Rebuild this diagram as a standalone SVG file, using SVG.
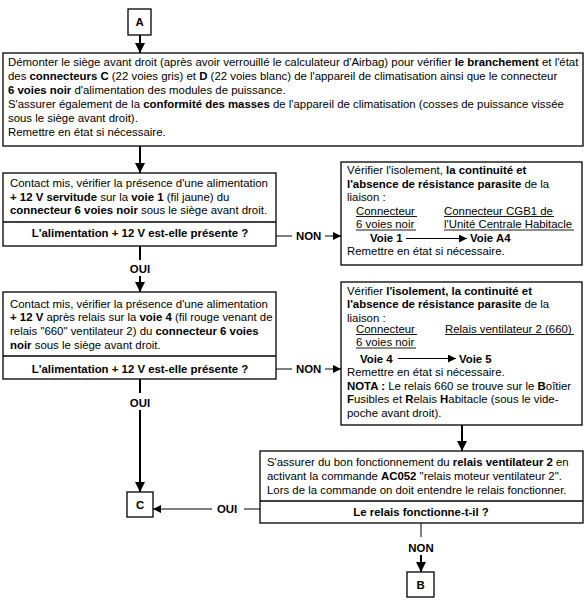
<svg xmlns="http://www.w3.org/2000/svg" width="585" height="609" viewBox="0 0 585 609">
<style>
.t{font-family:"Liberation Sans",Arial,sans-serif;font-size:11.4px;fill:#000}
.b{font-weight:bold}
.c{text-anchor:middle}
.box{fill:#fff;stroke:#000;stroke-width:1.3}
.dv{stroke:#000;stroke-width:1.3}
.v{stroke:#000;stroke-width:2;fill:none}
.h{stroke:#000;stroke-width:1;fill:none}
.u{stroke:#000;stroke-width:0.9}
</style>
<defs>
<marker id="big" viewBox="0 0 10 10" refX="10" refY="5" markerUnits="userSpaceOnUse" markerWidth="10" markerHeight="10" orient="auto"><path d="M0,0 L10,5 L0,10 z" fill="#000"/></marker>
<marker id="sm" viewBox="0 0 10 10" refX="10" refY="5" markerUnits="userSpaceOnUse" markerWidth="8" markerHeight="8" orient="auto"><path d="M0,0 L10,5 L0,10 z" fill="#000"/></marker>
</defs>
<rect width="585" height="609" fill="#fff"/>

<g id="connectors">
<line class="v" x1="140" y1="35" x2="140" y2="53" marker-end="url(#big)"/>
<line class="v" x1="140" y1="146" x2="140" y2="173" marker-end="url(#big)"/>
<line class="v" x1="140" y1="246" x2="140" y2="260"/>
<line class="v" x1="140" y1="276" x2="140" y2="292" marker-end="url(#big)"/>
<line class="h" x1="276" y1="236" x2="292" y2="236"/>
<line class="h" x1="325" y1="236" x2="341" y2="236" marker-end="url(#sm)"/>
<line class="v" x1="140" y1="379" x2="140" y2="393"/>
<line class="v" x1="140" y1="410" x2="140" y2="492" marker-end="url(#big)"/>
<line class="h" x1="276" y1="369" x2="292" y2="369"/>
<line class="h" x1="325" y1="369" x2="341" y2="369" marker-end="url(#sm)"/>
<line class="v" x1="462" y1="425" x2="462" y2="451" marker-end="url(#big)"/>
<line class="h" x1="260" y1="509" x2="244" y2="509"/>
<line class="h" x1="212" y1="509" x2="153" y2="509" marker-end="url(#sm)"/>
<line class="h" x1="421" y1="523" x2="421" y2="537"/>
<line class="v" x1="421" y1="555" x2="421" y2="572" marker-end="url(#big)"/>
<text class="t b c" x="140" y="273">OUI</text>
<text class="t b c" x="140" y="407">OUI</text>
<text class="t b" x="296" y="240">NON</text>
<text class="t b" x="296" y="373">NON</text>
<text class="t b" x="217" y="513">OUI</text>
<text class="t b c" x="421" y="552">NON</text>
</g>

<g id="A">
<rect class="box" x="128" y="9" width="23" height="26"/>
<text class="t b c" x="139.5" y="26">A</text>
</g>

<g id="step1">
<rect class="box" x="3" y="53" width="580" height="93"/>
<text class="t" x="8" y="66">Démonter le siège avant droit (après avoir verrouillé le calculateur d'Airbag) pour vérifier <tspan class="b">le branchement</tspan> et l'état</text>
<text class="t" x="8" y="80">des <tspan class="b">connecteurs C</tspan> (22 voies gris) et <tspan class="b">D</tspan> (22 voies blanc) de l'appareil de climatisation ainsi que le connecteur</text>
<text class="t" x="8" y="94"><tspan class="b">6 voies noir</tspan> d'alimentation des modules de puissance.</text>
<text class="t" x="8" y="108">S'assurer également de la <tspan class="b">conformité des masses</tspan> de l'appareil de climatisation (cosses de puissance vissée</text>
<text class="t" x="8" y="122">sous le siège avant droit).</text>
<text class="t" x="8" y="136">Remettre en état si nécessaire.</text>
</g>

<g id="test1">
<rect class="box" x="3" y="173" width="273" height="73"/>
<line class="dv" x1="3" y1="222" x2="276" y2="222"/>
<text class="t" x="10" y="187">Contact mis, vérifier la présence d'une alimentation</text>
<text class="t" x="10" y="200.5"><tspan class="b">+ 12 V servitude</tspan> sur la <tspan class="b">voie 1</tspan> (fil jaune) du</text>
<text class="t" x="10" y="214"><tspan class="b">connecteur 6 voies noir</tspan> sous le siège avant droit.</text>
<text class="t b c" x="140" y="237">L'alimentation + 12 V est-elle présente ?</text>
</g>

<g id="fix1">
<rect class="box" x="341" y="162" width="241" height="103"/>
<text class="t" x="347" y="174">Vérifier l'isolement, <tspan class="b">la continuité et</tspan></text>
<text class="t" x="347" y="187.5"><tspan class="b">l'absence de résistance parasite</tspan> de la</text>
<text class="t" x="347" y="201">liaison :</text>
<text class="t" x="356" y="214.5">Connecteur</text>
<text class="t" x="444" y="214.5">Connecteur CGB1 de</text>
<line class="u" x1="356" y1="216.5" x2="417" y2="216.5"/>
<line class="u" x1="444" y1="216.5" x2="554" y2="216.5"/>
<text class="t" x="356" y="228">6 voies noir</text>
<text class="t" x="444" y="228">l'Unité Centrale Habitacle</text>
<line class="u" x1="356" y1="230" x2="416" y2="230"/>
<line class="u" x1="444" y1="230" x2="574" y2="230"/>
<text class="t b" x="370" y="242">Voie 1</text>
<line class="h" x1="406" y1="238.5" x2="467" y2="238.5" marker-end="url(#sm)"/>
<text class="t b" x="470" y="242">Voie A4</text>
<text class="t" x="347" y="255">Remettre en état si nécessaire.</text>
</g>

<g id="test2">
<rect class="box" x="3" y="292" width="273" height="87"/>
<line class="dv" x1="3" y1="356" x2="276" y2="356"/>
<text class="t" x="10" y="307.5">Contact mis, vérifier la présence d'une alimentation</text>
<text class="t" x="10" y="321"><tspan class="b">+ 12 V</tspan> après relais sur la <tspan class="b">voie 4</tspan> (fil rouge venant de</text>
<text class="t" x="10" y="335"><tspan>relais "660" ventilateur 2) du </tspan><tspan class="b">connecteur 6 voies</tspan></text>
<text class="t" x="10" y="348.5"><tspan class="b">noir</tspan> sous le siège avant droit.</text>
<text class="t b c" x="140" y="372.5">L'alimentation + 12 V est-elle présente ?</text>
</g>

<g id="fix2">
<rect class="box" x="341" y="282" width="241" height="143"/>
<text class="t" x="347" y="294.5">Vérifier <tspan class="b">l'isolement, la continuité et</tspan></text>
<text class="t" x="347" y="308"><tspan class="b">l'absence de résistance parasite</tspan> de la</text>
<text class="t" x="347" y="321.5">liaison :</text>
<text class="t" x="356" y="332.5">Connecteur</text>
<text class="t" x="445" y="332.5">Relais ventilateur 2 (660)</text>
<line class="u" x1="356" y1="334.5" x2="417" y2="334.5"/>
<line class="u" x1="445" y1="334.5" x2="574" y2="334.5"/>
<text class="t" x="356" y="346">6 voies noir</text>
<line class="u" x1="356" y1="348" x2="416" y2="348"/>
<text class="t b" x="360" y="362.5">Voie 4</text>
<line class="h" x1="398" y1="358.5" x2="456" y2="358.5" marker-end="url(#sm)"/>
<text class="t b" x="459" y="362.5">Voie 5</text>
<text class="t" x="347" y="376">Remettre en état si nécessaire.</text>
<text class="t" x="347" y="389.5"><tspan class="b">NOTA :</tspan> Le relais 660 se trouve sur le <tspan class="b">B</tspan>oîtier</text>
<text class="t" x="347" y="403"><tspan class="b">F</tspan>usibles et <tspan class="b">R</tspan>elais <tspan class="b">H</tspan>abitacle (sous le vide-</text>
<text class="t" x="347" y="416.5">poche avant droit).</text>
</g>

<g id="test3">
<rect class="box" x="260" y="451" width="323" height="72"/>
<line class="dv" x1="260" y1="501" x2="583" y2="501"/>
<text class="t" x="267" y="465.5">S'assurer du bon fonctionnement du <tspan class="b">relais ventilateur 2</tspan> en</text>
<text class="t" x="267" y="479.5">activant la commande <tspan class="b">AC052</tspan> "relais moteur ventilateur 2".</text>
<text class="t" x="267" y="493.5">Lors de la commande on doit entendre le relais fonctionner.</text>
<text class="t b c" x="421" y="515.5">Le relais fonctionne-t-il ?</text>
</g>

<g id="C">
<rect class="box" x="127" y="492" width="26" height="25"/>
<text class="t b c" x="140" y="508.5">C</text>
</g>

<g id="B">
<rect class="box" x="407" y="572" width="27" height="25"/>
<text class="t b c" x="420.5" y="588.5">B</text>
</g>
</svg>
